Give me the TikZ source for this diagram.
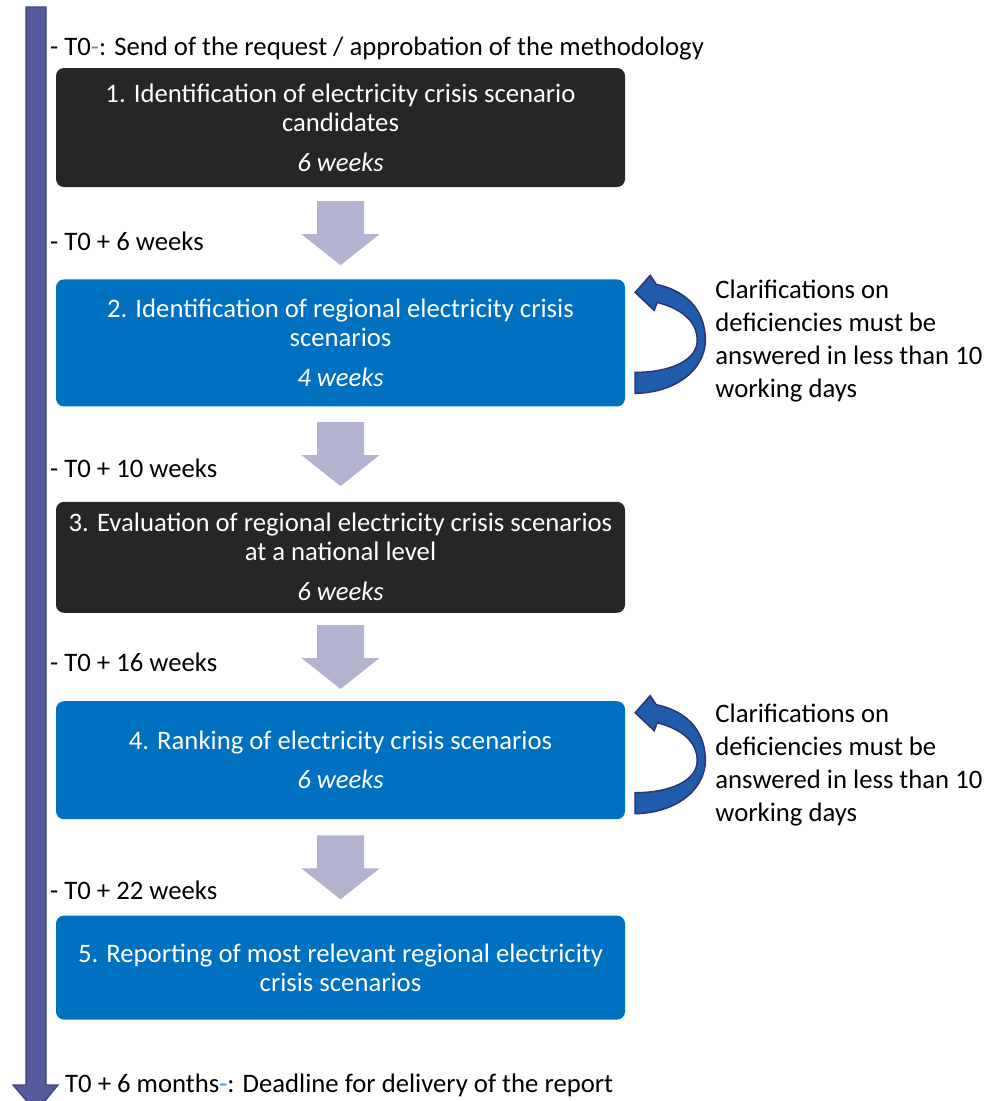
\documentclass[tikz,border=0pt]{standalone}
\usepackage{fontspec}
\setmainfont{Carlito}
\usetikzlibrary{positioning,calc}

\definecolor{boxblack}{HTML}{262626}
\definecolor{boxblue}{HTML}{0070C0}
\definecolor{stepgrey}{HTML}{B3B3CF}
\definecolor{lineblue}{HTML}{575B9D}
\definecolor{lineedge}{HTML}{3E4284}
\definecolor{loopblue}{HTML}{1F5CAB}
\definecolor{loopedge}{HTML}{2E3372}
\definecolor{dashblue}{HTML}{4A9BD8}

\tikzset{
  phase/.style={rectangle, rounded corners=8pt, minimum width=569pt, inner sep=0pt,
    text=white, align=center, font=\fontsize{26.7}{29}\selectfont},
  darkphase/.style={phase, fill=boxblack},
  bluephase/.style={phase, fill=boxblue},
  milestone/.style={anchor=base west, inner sep=0pt, font=\fontsize{26.7}{33}\selectfont},
  remark/.style={anchor=west, inner sep=0pt, align=left, font=\fontsize{26.7}{33}\selectfont},
  stepdown/.pic={\fill[stepgrey] (-23.5,0) -- (23.5,0) -- (23.5,33) -- (39,33) -- (0,64)
    -- (-39,33) -- (-23.5,33) -- cycle;},
  clarify/.pic={\filldraw[fill=loopblue, draw=loopedge, line width=1.5pt]
    (10,29.5) -- (10,50.5) .. controls (55,49.5) and (83,22.5) .. (80,-7.5)
    .. controls (78,-34.5) and (60,-52.5) .. (31,-58.5) -- (25,-67.5) -- (10,-50.5)
    -- (29,-32.5) -- (32,-40.5) .. controls (55,-34.5) and (72,-22.5) .. (72,-2.5)
    .. controls (72,17.5) and (45,29.5) .. (10,29.5) -- cycle;}
}

\begin{document}
\begin{tikzpicture}[x=1pt, y=-1pt]
\useasboundingbox (0,0) rectangle (995,1101);

% time line
\filldraw[fill=lineblue, draw=lineedge, line width=1.2pt]
  (26,7) -- (46,7) -- (46,1085) -- (58,1085) -- (36,1112) -- (13,1085) -- (26,1085) -- cycle;

% phases
\node[darkphase, minimum height=119pt] (s1) at (340.5,127.5)
  {1. Identification of electricity crisis scenario\\candidates\\[11pt]\textit{6 weeks}};
\node[bluephase, minimum height=127pt, below=92pt of s1] (s2)
  {2. Identification of regional electricity crisis\\scenarios\\[11pt]\textit{4 weeks}};
\node[darkphase, minimum height=111pt, below=95pt of s2] (s3)
  {3. Evaluation of regional electricity crisis scenarios\\at a national level\\[11pt]\textit{6 weeks}};
\node[bluephase, minimum height=118pt, below=88pt of s3] (s4)
  {4. Ranking of electricity crisis scenarios\\[10pt]\textit{6 weeks}};
\node[bluephase, minimum height=104pt, below=96pt of s4] (s5)
  {5. Reporting of most relevant regional electricity\\crisis scenarios};

% arrows between phases
\path ($(s1.south)!0.5!(s2.north)$) pic[yshift=32pt] {stepdown};
\path ($(s2.south)!0.5!(s3.north)$) pic[yshift=32pt] {stepdown};
\path ($(s3.south)!0.5!(s4.north)$) pic[yshift=32pt] {stepdown};
\path ($(s4.south)!0.5!(s5.north)$) pic[yshift=32pt] {stepdown};

% clarification loops
\path (s2.east) pic {clarify};
\path (s4.east) pic[yshift=-3pt] {clarify};
\node[remark, right=90pt of s2.east, yshift=2pt] (c2)
  {Clarifications on\\deficiencies must be\\answered in less than 10\\working days};
\node[remark, right=90pt of s4.east, yshift=-5pt] (c4)
  {Clarifications on\\deficiencies must be\\answered in less than 10\\working days};

% milestones
\node[milestone] (m0) at (50,55) {- T0{\color{dashblue}-}: Send of the request / approbation of the methodology};
\node[milestone] (m6) at (50,250) {- T0 + 6 weeks};
\node[milestone] (m10) at (50,477) {- T0 + 10 weeks};
\node[milestone] (m16) at (50,671) {- T0 + 16 weeks};
\node[milestone] (m22) at (50,899) {- T0 + 22 weeks};
\node[milestone] (mend) at (65,1092) {T0 + 6 months{\color{dashblue}-}: Deadline for delivery of the report};
\end{tikzpicture}
\end{document}
